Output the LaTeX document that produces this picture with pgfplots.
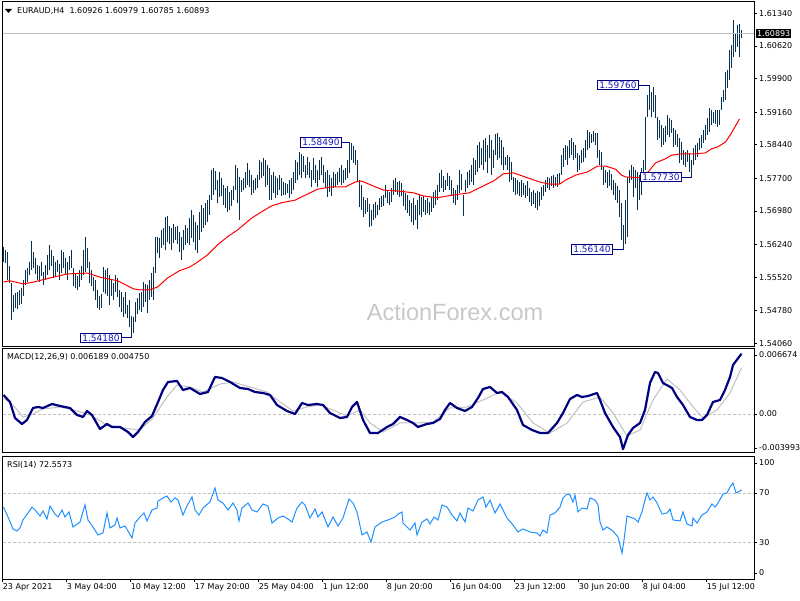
\documentclass[border=0pt]{standalone}
\usepackage{pgfplots}
\usepackage{pgfplotstable}
\pgfplotsset{compat=1.18}
\usepackage{fontspec}
\setmainfont{DejaVu Sans}
\newfontfamily\wmfont{Liberation Sans}

\definecolor{barc}{RGB}{8,48,80}
\definecolor{navyc}{RGB}{0,0,128}
\definecolor{lblc}{RGB}{24,24,190}
\definecolor{silverc}{RGB}{192,192,192}
\definecolor{rsic}{RGB}{30,144,255}
\definecolor{wmc}{RGB}{200,200,200}

% H4 bars: index, high, low
\pgfplotstableread{
x hi lo
0 1.5619 1.5585
1 1.5612 1.5583
2 1.5607 1.5546
3 1.5577 1.5539
4 1.5539 1.5457
5 1.5513 1.5475
6 1.5517 1.5484
7 1.5519 1.5482
8 1.5524 1.5490
9 1.5528 1.5493
10 1.5546 1.5510
11 1.5568 1.5535
12 1.5572 1.5541
13 1.5585 1.5557
14 1.5632 1.5568
15 1.5607 1.5572
16 1.5594 1.5559
17 1.5579 1.5546
18 1.5577 1.5541
19 1.5585 1.5555
20 1.5563 1.5535
21 1.5579 1.5546
22 1.5601 1.5557
23 1.5623 1.5568
24 1.5612 1.5577
25 1.5599 1.5550
26 1.5585 1.5555
27 1.5590 1.5563
28 1.5581 1.5546
29 1.5612 1.5561
30 1.5607 1.5572
31 1.5594 1.5559
32 1.5585 1.5546
33 1.5599 1.5568
34 1.5612 1.5572
35 1.5572 1.5532
36 1.5561 1.5528
37 1.5555 1.5524
38 1.5568 1.5530
39 1.5577 1.5546
40 1.5612 1.5557
41 1.5641 1.5563
42 1.5616 1.5572
43 1.5585 1.5539
44 1.5568 1.5532
45 1.5552 1.5521
46 1.5546 1.5502
47 1.5524 1.5484
48 1.5510 1.5479
49 1.5515 1.5484
50 1.5574 1.5519
51 1.5568 1.5515
52 1.5572 1.5510
53 1.5557 1.5490
54 1.5546 1.5510
55 1.5539 1.5502
56 1.5557 1.5519
57 1.5550 1.5508
58 1.5524 1.5486
59 1.5519 1.5475
60 1.5508 1.5464
61 1.5519 1.5471
62 1.5490 1.5462
63 1.5502 1.5442
64 1.5466 1.5418
65 1.5464 1.5429
66 1.5497 1.5453
67 1.5506 1.5471
68 1.5517 1.5479
69 1.5519 1.5475
70 1.5541 1.5486
71 1.5537 1.5497
72 1.5535 1.5473
73 1.5546 1.5502
74 1.5561 1.5508
75 1.5574 1.5502
76 1.5641 1.5561
77 1.5641 1.5605
78 1.5638 1.5594
79 1.5656 1.5616
80 1.5660 1.5623
81 1.5685 1.5612
82 1.5687 1.5630
83 1.5665 1.5625
84 1.5660 1.5612
85 1.5669 1.5627
86 1.5663 1.5634
87 1.5665 1.5625
88 1.5652 1.5607
89 1.5641 1.5590
90 1.5656 1.5612
91 1.5667 1.5623
92 1.5660 1.5627
93 1.5682 1.5623
94 1.5700 1.5638
95 1.5689 1.5630
96 1.5674 1.5612
97 1.5667 1.5605
98 1.5696 1.5634
99 1.5711 1.5652
100 1.5705 1.5660
101 1.5716 1.5667
102 1.5722 1.5674
103 1.5733 1.5689
104 1.5788 1.5722
105 1.5793 1.5733
106 1.5786 1.5744
107 1.5766 1.5716
108 1.5784 1.5729
109 1.5771 1.5731
110 1.5755 1.5711
111 1.5749 1.5705
112 1.5753 1.5696
113 1.5740 1.5700
114 1.5744 1.5709
115 1.5753 1.5722
116 1.5799 1.5744
117 1.5793 1.5716
118 1.5773 1.5678
119 1.5766 1.5740
120 1.5771 1.5744
121 1.5784 1.5749
122 1.5804 1.5755
123 1.5788 1.5751
124 1.5777 1.5733
125 1.5766 1.5738
126 1.5771 1.5744
127 1.5777 1.5749
128 1.5810 1.5766
129 1.5806 1.5771
130 1.5815 1.5775
131 1.5810 1.5751
132 1.5799 1.5755
133 1.5793 1.5722
134 1.5777 1.5722
135 1.5784 1.5738
136 1.5775 1.5727
137 1.5771 1.5733
138 1.5777 1.5744
139 1.5771 1.5731
140 1.5762 1.5733
141 1.5760 1.5733
142 1.5757 1.5738
143 1.5766 1.5727
144 1.5771 1.5735
145 1.5784 1.5744
146 1.5810 1.5760
147 1.5806 1.5766
148 1.5828 1.5777
149 1.5824 1.5771
150 1.5819 1.5784
151 1.5799 1.5771
152 1.5817 1.5777
153 1.5806 1.5771
154 1.5788 1.5751
155 1.5815 1.5766
156 1.5799 1.5760
157 1.5788 1.5751
158 1.5810 1.5766
159 1.5817 1.5777
160 1.5799 1.5760
161 1.5784 1.5749
162 1.5788 1.5729
163 1.5777 1.5740
164 1.5771 1.5731
165 1.5784 1.5749
166 1.5780 1.5751
167 1.5784 1.5755
168 1.5793 1.5762
169 1.5799 1.5755
170 1.5788 1.5760
171 1.5793 1.5766
172 1.5810 1.5771
173 1.5849 1.5782
174 1.5848 1.5810
175 1.5841 1.5804
176 1.5832 1.5799
177 1.5810 1.5762
178 1.5766 1.5707
179 1.5755 1.5700
180 1.5729 1.5685
181 1.5722 1.5691
182 1.5727 1.5696
183 1.5713 1.5663
184 1.5700 1.5665
185 1.5713 1.5678
186 1.5718 1.5682
187 1.5711 1.5689
188 1.5727 1.5700
189 1.5731 1.5707
190 1.5733 1.5709
191 1.5755 1.5727
192 1.5744 1.5716
193 1.5740 1.5711
194 1.5749 1.5718
195 1.5766 1.5733
196 1.5771 1.5740
197 1.5762 1.5733
198 1.5764 1.5729
199 1.5760 1.5731
200 1.5744 1.5709
201 1.5738 1.5700
202 1.5733 1.5693
203 1.5722 1.5687
204 1.5716 1.5674
205 1.5727 1.5667
206 1.5711 1.5678
207 1.5722 1.5658
208 1.5733 1.5689
209 1.5729 1.5685
210 1.5731 1.5696
211 1.5722 1.5689
212 1.5727 1.5693
213 1.5718 1.5689
214 1.5729 1.5696
215 1.5740 1.5705
216 1.5744 1.5711
217 1.5755 1.5722
218 1.5782 1.5740
219 1.5788 1.5749
220 1.5775 1.5740
221 1.5766 1.5744
222 1.5782 1.5753
223 1.5775 1.5744
224 1.5766 1.5733
225 1.5749 1.5716
226 1.5744 1.5711
227 1.5755 1.5722
228 1.5788 1.5738
229 1.5780 1.5744
230 1.5733 1.5687
231 1.5766 1.5740
232 1.5784 1.5749
233 1.5788 1.5755
234 1.5799 1.5762
235 1.5815 1.5755
236 1.5810 1.5777
237 1.5843 1.5784
238 1.5850 1.5793
239 1.5837 1.5799
240 1.5854 1.5788
241 1.5859 1.5806
242 1.5843 1.5782
243 1.5865 1.5815
244 1.5854 1.5777
245 1.5832 1.5793
246 1.5868 1.5821
247 1.5870 1.5810
248 1.5861 1.5815
249 1.5854 1.5799
250 1.5839 1.5788
251 1.5817 1.5799
252 1.5821 1.5788
253 1.5817 1.5762
254 1.5806 1.5766
255 1.5773 1.5740
256 1.5771 1.5733
257 1.5766 1.5735
258 1.5762 1.5731
259 1.5766 1.5729
260 1.5760 1.5733
261 1.5755 1.5727
262 1.5764 1.5731
263 1.5749 1.5718
264 1.5740 1.5709
265 1.5744 1.5713
266 1.5738 1.5705
267 1.5742 1.5700
268 1.5740 1.5709
269 1.5751 1.5722
270 1.5755 1.5731
271 1.5766 1.5740
272 1.5773 1.5749
273 1.5771 1.5744
274 1.5775 1.5753
275 1.5777 1.5749
276 1.5773 1.5753
277 1.5780 1.5751
278 1.5782 1.5757
279 1.5821 1.5777
280 1.5837 1.5795
281 1.5843 1.5810
282 1.5841 1.5799
283 1.5854 1.5815
284 1.5859 1.5821
285 1.5850 1.5810
286 1.5843 1.5815
287 1.5826 1.5784
288 1.5821 1.5788
289 1.5832 1.5804
290 1.5837 1.5806
291 1.5854 1.5815
292 1.5876 1.5832
293 1.5872 1.5837
294 1.5868 1.5848
295 1.5874 1.5850
296 1.5870 1.5843
297 1.5870 1.5815
298 1.5832 1.5799
299 1.5828 1.5788
300 1.5795 1.5755
301 1.5788 1.5760
302 1.5784 1.5749
303 1.5788 1.5753
304 1.5780 1.5744
305 1.5766 1.5733
306 1.5760 1.5722
307 1.5753 1.5716
308 1.5744 1.5685
309 1.5716 1.5634
310 1.5667 1.5614
311 1.5722 1.5625
312 1.5773 1.5641
313 1.5788 1.5760
314 1.5799 1.5766
315 1.5795 1.5729
316 1.5788 1.5749
317 1.5784 1.5700
318 1.5777 1.5722
319 1.5793 1.5733
320 1.5810 1.5773
321 1.5905 1.5788
322 1.5954 1.5905
323 1.5976 1.5921
324 1.5960 1.5905
325 1.5971 1.5916
326 1.5954 1.5903
327 1.5905 1.5854
328 1.5899 1.5859
329 1.5888 1.5839
330 1.5881 1.5843
331 1.5885 1.5850
332 1.5910 1.5865
333 1.5903 1.5861
334 1.5899 1.5870
335 1.5881 1.5839
336 1.5876 1.5843
337 1.5868 1.5839
338 1.5859 1.5804
339 1.5850 1.5810
340 1.5832 1.5799
341 1.5828 1.5795
342 1.5832 1.5806
343 1.5826 1.5784
344 1.5810 1.5773
345 1.5837 1.5799
346 1.5843 1.5810
347 1.5848 1.5817
348 1.5859 1.5832
349 1.5865 1.5837
350 1.5876 1.5848
351 1.5888 1.5854
352 1.5903 1.5865
353 1.5925 1.5872
354 1.5921 1.5888
355 1.5916 1.5892
356 1.5921 1.5890
357 1.5921 1.5883
358 1.5921 1.5888
359 1.5949 1.5921
360 1.5965 1.5938
361 1.6005 1.5943
362 1.6009 1.5969
363 1.6053 1.5987
364 1.6064 1.6013
365 1.6119 1.6038
366 1.6090 1.6049
367 1.6108 1.6060
368 1.6110 1.6038
369 1.6098 1.6079
}\bars

\begin{document}
\begin{tikzpicture}
\useasboundingbox (0pt,0pt) rectangle (800pt,600pt);

% ---------- price panel ----------
\begin{axis}[
  at={(2.5pt,598pt)}, anchor=north west,
  scale only axis, width=751.5pt, height=344pt,
  xmin=-0.5, xmax=375.25, ymin=1.5400, ymax=1.61589,
  axis on top, scaled y ticks=false,
  axis line style={black, line width=1pt},
  xtick=\empty,
  ytick={1.5406,1.5478,1.5552,1.5624,1.5698,1.5770,1.5844,1.5916,1.5990,1.6062,1.6134},
  yticklabels={1.54060,1.54780,1.55520,1.56240,1.56980,1.57700,1.58440,1.59160,1.59900,1.60620,1.61340},
  ytick pos=right, yticklabel pos=right,
  tick align=outside, major tick length=3pt,
  tick style={black, line width=0.8pt},
  yticklabel style={font=\fontsize{8}{9.6}\selectfont, anchor=west, inner sep=0pt, xshift=2pt},
]
% each bar: a comb up to the high, then a white comb below the low
\addplot[ycomb, barc, line width=1.5pt, mark=none, forget plot] table[x=x, y=hi] {\bars};
\addplot[ycomb, white, line width=2pt, mark=none, forget plot] table[x=x, y=lo] {\bars};
\addplot[silverc, line width=0.8pt, forget plot] coordinates {(-0.5,1.60893) (375.25,1.60893)};
\addplot[red, line width=1pt, forget plot] coordinates {
(0,1.5541) (3,1.5544) (10,1.5537) (15,1.5541) (23,1.5550) (32,1.5559) (42,1.5561)
(48,1.5552) (57,1.5544) (65,1.5526) (68,1.5524) (73,1.5524) (77,1.5530) (82,1.5550)
(88,1.5566) (93,1.5574) (97,1.5585) (102,1.5601) (107,1.5623) (112,1.5641) (117,1.5656)
(124,1.5682) (129,1.5696) (134,1.5709) (139,1.5716) (146,1.5722) (151,1.5733) (157,1.5746)
(164,1.5751) (171,1.5751) (176,1.5762) (179,1.5764) (186,1.5751) (190,1.5744) (197,1.5742)
(205,1.5738) (210,1.5731) (217,1.5727) (222,1.5731) (228,1.5735) (233,1.5738) (238,1.5749)
(245,1.5764) (250,1.5780) (255,1.5782) (262,1.5771) (268,1.5762) (273,1.5757) (278,1.5757)
(281,1.5766) (286,1.5777) (292,1.5784) (297,1.5797) (301,1.5797) (306,1.5790) (309,1.5777)
(311,1.5773) (319,1.5771) (322,1.5782) (326,1.5804) (331,1.5813) (334,1.5821) (339,1.5824)
(346,1.5824) (351,1.5826) (354,1.5835) (357,1.5839) (361,1.5850) (364,1.5870) (368,1.5901)};

\node[font=\wmfont\fontsize{23.5}{28}\selectfont, text=wmc] at (axis cs:225.75,1.5474) {ActionForex.com};

\tikzset{hl/.style={draw=navyc, fill=white, text=lblc, line width=0.8pt,
  font=\fontsize{9}{10}\selectfont, inner xsep=2pt, inner ysep=1.5pt, anchor=east}}
\draw[navyc, line width=0.8pt] (axis cs:169.25,1.5849) -- (axis cs:173.25,1.5849);
\node[hl] at (axis cs:169.25,1.5849) {1.58490};
\draw[navyc, line width=0.8pt] (axis cs:59.25,1.5418) -- (axis cs:64,1.5418);
\node[hl] at (axis cs:59.25,1.5418) {1.54180};
\draw[navyc, line width=0.8pt] (axis cs:317.75,1.5976) -- (axis cs:323.25,1.5976);
\node[hl] at (axis cs:317.75,1.5976) {1.59760};
\draw[navyc, line width=0.8pt] (axis cs:304.75,1.5614) -- (axis cs:310,1.5614);
\node[hl] at (axis cs:304.75,1.5614) {1.56140};
\draw[navyc, line width=0.8pt] (axis cs:339.25,1.5773) -- (axis cs:344,1.5773);
\node[hl] at (axis cs:339.25,1.5773) {1.57730};
\end{axis}
% current price tag on the price scale
\node[fill=black, text=white, anchor=west, inner xsep=1pt, inner ysep=1.5pt,
  font=\fontsize{8}{9.6}\selectfont] at (756pt,566.5pt) {1.60893};

% ---------- MACD panel ----------
\begin{axis}[
  at={(2.5pt,251pt)}, anchor=north west,
  scale only axis, width=751.5pt, height=104pt,
  xmin=-0.5, xmax=375.25, ymin=-0.003993, ymax=0.006674,
  scaled y ticks=false,
  axis line style={black, line width=1pt},
  xtick=\empty,
  ytick={-0.00348,0,0.00606},
  yticklabels={-0.003993,0.00,0.006674},
  ytick pos=right, yticklabel pos=right,
  tick align=outside, major tick length=3pt,
  tick style={black, line width=0.8pt},
  yticklabel style={font=\fontsize{8}{9.6}\selectfont, anchor=west, inner sep=0pt, xshift=2pt},
]
\addplot[silverc, line width=0.8pt, dash pattern=on 3pt off 2pt, forget plot] coordinates {(-0.5,0) (375.25,0)};
\addplot[silverc, line width=1pt, forget plot] coordinates {
(0,0.001648) (4.75,0.000930) (9.75,-0.000300) (14.75,0.000007) (19.75,0.000520) (28.25,0.000725)
(36.75,0.000315) (43.25,-0.000095) (51.75,-0.001121) (59.75,-0.001429) (68.25,-0.001634)
(74.75,-0.000403) (81.75,0.001751) (86.75,0.002981) (93.25,0.002776) (99.75,0.002264)
(108.25,0.003084) (114.75,0.003289) (123.25,0.002776) (131.75,0.002264) (138.25,0.001238)
(144.75,0.000315) (151.75,0.000725) (158.25,0.000930) (164.75,0.000418) (171.75,-0.000198)
(178.25,0.000418) (183.25,-0.000916) (189.75,-0.001839) (198.25,-0.000916) (206.75,-0.000916)
(214.75,-0.000813) (223.25,0.000623) (231.75,0.000725) (239.75,0.001443) (248.25,0.002264)
(256.75,0.001135) (264.75,-0.000916) (273.25,-0.001942) (281.75,-0.000916) (289.75,0.001238)
(298.25,0.001751) (304.75,0.000110) (311.75,-0.002250) (318.25,-0.001634) (324.75,0.001443)
(331.75,0.003597) (338.25,0.002469) (344.75,0.000725) (349.75,-0.000403) (356.75,0.000418)
(363.25,0.002161) (369,0.004750)};
\addplot[navyc, line width=2.2pt, line join=round, forget plot] coordinates {
(0,0.001956) (3.25,0.001238) (5.75,-0.000403) (9.25,-0.001018) (11.75,-0.000608) (14.75,0.000623)
(17.25,0.000725) (19.75,0.000623) (24.25,0.001033) (28.25,0.000828) (33.25,0.000623)
(36.75,-0.000095) (39.75,-0.000300) (41.75,0.000315) (44.25,-0.000095) (48.25,-0.001531)
(51.75,-0.001018) (54.25,-0.001326) (58.25,-0.001326) (62.25,-0.001839) (64.75,-0.002352)
(67.25,-0.001839) (70.75,-0.000813) (74.25,-0.000198) (77.25,0.001238) (79.75,0.002469)
(82.25,0.003289) (86.75,0.003392) (89.75,0.002469) (93.25,0.002674) (98.25,0.002058)
(102.25,0.002264) (105.75,0.003802) (109.25,0.003700) (113.25,0.003289) (118.25,0.002674)
(122.25,0.002571) (125.75,0.002264) (129.75,0.002161) (133.25,0.001956) (136.75,0.000930)
(141.75,0.000315) (145.75,0.000007) (149.25,0.001135) (152.25,0.000930) (156.75,0.001033)
(159.75,0.000930) (163.25,0.000110) (168.25,-0.000403) (171.75,-0.000300) (174.25,0.000725)
(176.75,0.001238) (179.75,-0.000608) (183.25,-0.001942) (187.25,-0.001942) (191.75,-0.001326)
(194.75,-0.001018) (198.25,-0.000300) (201.75,-0.000608) (204.75,-0.000916) (207.25,-0.001326)
(211.75,-0.001018) (214.75,-0.000916) (218.25,-0.000506) (220.75,0.000418) (223.25,0.001135)
(226.75,0.000623) (230.75,0.000315) (234.25,0.000725) (237.25,0.001648) (239.75,0.002571)
(243.25,0.002776) (246.75,0.002161) (249.25,0.002264) (252.25,0.001751) (256.75,0.000418)
(259.75,-0.001121) (264.25,-0.001634) (268.25,-0.001942) (272.25,-0.001942) (276.75,-0.000916)
(279.75,0.000110) (283.25,0.001546) (286.75,0.001956) (289.25,0.001751) (292.25,0.001853)
(296.75,0.002161) (298.25,0.001443) (300.75,0.000110) (304.75,-0.001326) (308.25,-0.002352)
(309.75,-0.003600) (312.25,-0.002147) (314.75,-0.001429) (318.25,-0.000916) (320.75,0.000418)
(323.25,0.003187) (325.75,0.004315) (327.25,0.004212) (329.75,0.003187) (334.25,0.002674)
(336.75,0.001751) (339.75,0.000930) (343.25,-0.000300) (346.75,-0.000608) (349.25,-0.000608)
(351.75,-0.000095) (354.75,0.001238) (358.25,0.001443) (360.75,0.002469) (363.25,0.003802)
(364.75,0.005033) (369,0.006189)};
\end{axis}

% ---------- RSI panel ----------
\begin{axis}[
  at={(2.5pt,144pt)}, anchor=north west,
  scale only axis, width=751.5pt, height=123pt,
  xmin=-0.5, xmax=375.25, ymin=0, ymax=100,
  axis line style={black, line width=1pt},
  xtick={-0.4,31.6,63.6,95.6,127.6,159.6,191.6,223.6,255.6,287.6,319.6,351.6},
  xticklabels={23 Apr 2021,3 May 04:00,10 May 12:00,17 May 20:00,25 May 04:00,1 Jun 12:00,8 Jun 20:00,16 Jun 04:00,23 Jun 12:00,30 Jun 20:00,8 Jul 04:00,15 Jul 12:00},
  xtick pos=bottom,
  ytick={4.9,30,70,94.3},
  yticklabels={0,30,70,100},
  ytick pos=right, yticklabel pos=right,
  tick align=outside, major tick length=3pt,
  tick style={black, line width=0.8pt},
  yticklabel style={font=\fontsize{8}{9.6}\selectfont, anchor=west, inner sep=0pt, xshift=2pt},
  xticklabel style={font=\fontsize{8}{9.6}\selectfont, anchor=north west, inner sep=0pt, yshift=-1pt},
]
\addplot[silverc, line width=0.8pt, dash pattern=on 3pt off 2pt, forget plot] coordinates {(-0.5,70) (375.25,70)};
\addplot[silverc, line width=0.8pt, dash pattern=on 3pt off 2pt, forget plot] coordinates {(-0.5,30) (375.25,30)};
\addplot[rsic, line width=1pt, forget plot] coordinates {
(0,58.5) (2.25,50.4) (4.75,40.7) (6.75,39.0) (8.25,41.5) (9.75,48.0) (12.25,53.7) (14.25,58.5)
(15.75,56.1) (18.25,51.2) (19.75,55.3) (21.75,48.8) (23.25,59.3) (25.75,52.8) (27.25,50.4)
(29.25,56.1) (30.75,50.4) (32.75,54.5) (34.75,42.3) (38.25,46.3) (40.75,60.2) (42.25,48.0)
(44.75,42.3) (47.25,35.8) (49.75,37.4) (51.75,53.7) (53.25,41.5) (55.75,43.9) (56.75,49.6)
(58.25,41.5) (60.75,43.1) (62.25,39.0) (64.25,33.3) (65.75,45.5) (68.25,50.4) (70.25,53.7)
(71.75,47.2) (74.25,56.1) (76.75,57.7) (77.25,63.4) (79.75,65.9) (81.75,67.5) (83.75,62.6)
(85.75,65.9) (87.25,64.2) (89.75,52.0) (91.75,59.3) (94.25,66.7) (95.75,56.1) (97.75,52.0)
(99.75,57.7) (103.25,62.6) (105.75,74.0) (107.25,64.2) (109.75,61.8) (112.25,56.1) (114.75,61.8)
(116.75,56.1) (117.75,47.2) (119.25,57.7) (122.25,61.8) (124.25,56.1) (126.75,54.5) (129.75,61.0)
(132.25,59.3) (134.25,45.5) (137.25,49.6) (139.75,51.2) (142.25,48.8) (144.25,46.3) (146.75,57.7)
(149.25,62.6) (150.75,60.2) (153.25,49.6) (155.75,56.9) (157.25,50.4) (159.25,54.5) (162.25,42.3)
(164.75,50.4) (167.25,43.1) (169.75,49.6) (172.75,65.0) (174.75,61.8) (176.75,54.5) (179.25,35.8)
(181.75,38.2) (183.75,30.1) (185.75,42.3) (189.25,46.3) (192.25,48.0) (195.75,50.4) (197.25,52.8)
(199.25,54.5) (199.75,45.5) (203.25,39.8) (205.75,45.5) (206.75,35.8) (209.25,46.3) (211.75,48.8)
(213.25,44.7) (215.25,50.4) (217.25,48.0) (219.25,60.2) (221.75,58.5) (224.25,52.0) (226.75,47.2)
(228.25,53.7) (230.75,46.3) (232.25,57.7) (234.75,55.3) (237.25,64.2) (239.75,66.7) (241.25,58.5)
(243.25,64.2) (245.75,53.7) (248.25,61.0) (251.75,49.6) (254.75,43.9) (257.25,38.2) (259.75,40.7)
(263.25,38.2) (266.75,37.4) (268.25,35.0) (269.75,39.8) (271.75,37.4) (273.25,52.0) (275.75,53.7)
(278.25,58.5) (279.75,65.9) (281.75,69.1) (283.25,68.3) (284.75,62.6) (285.75,68.3) (287.25,54.5)
(289.25,57.7) (291.75,56.9) (293.25,65.9) (295.75,64.2) (297.25,60.2) (298.25,46.3) (299.75,39.8)
(301.75,42.3) (304.75,39.0) (307.25,34.1) (309.25,21.1) (310.25,31.7) (311.75,51.2) (313.25,50.4)
(315.75,48.8) (317.25,46.3) (319.25,54.5) (320.75,64.2) (321.75,69.9) (323.25,64.2) (324.75,66.7)
(326.75,61.8) (329.25,52.8) (331.75,53.7) (333.25,56.9) (334.75,48.0) (338.25,47.2) (339.75,54.5)
(341.75,44.7) (344.25,43.1) (344.75,49.6) (346.75,45.5) (349.25,52.0) (351.75,54.5) (354.25,61.0)
(355.75,58.5) (357.25,61.8) (359.75,69.1) (361.75,69.9) (363.25,74.8) (364.75,78.0) (366.25,69.9)
(368.25,71.5) (369,72.6)};
\end{axis}

% ---------- panel captions ----------
\fill[black] (5pt,591pt) -- (12pt,591pt) -- (8.5pt,587pt) -- cycle;
\node[anchor=west, inner sep=0pt, font=\fontsize{8}{9.6}\selectfont] at (17pt,589pt)
  {EURAUD,H4\ \ 1.60926 1.60979 1.60785 1.60893};
\node[anchor=west, inner sep=0pt, font=\fontsize{8}{9.6}\selectfont] at (7pt,243pt)
  {MACD(12,26,9) 0.006189 0.004750};
\node[anchor=west, inner sep=0pt, font=\fontsize{8}{9.6}\selectfont] at (7pt,135pt)
  {RSI(14) 72.5573};
\end{tikzpicture}
\end{document}
